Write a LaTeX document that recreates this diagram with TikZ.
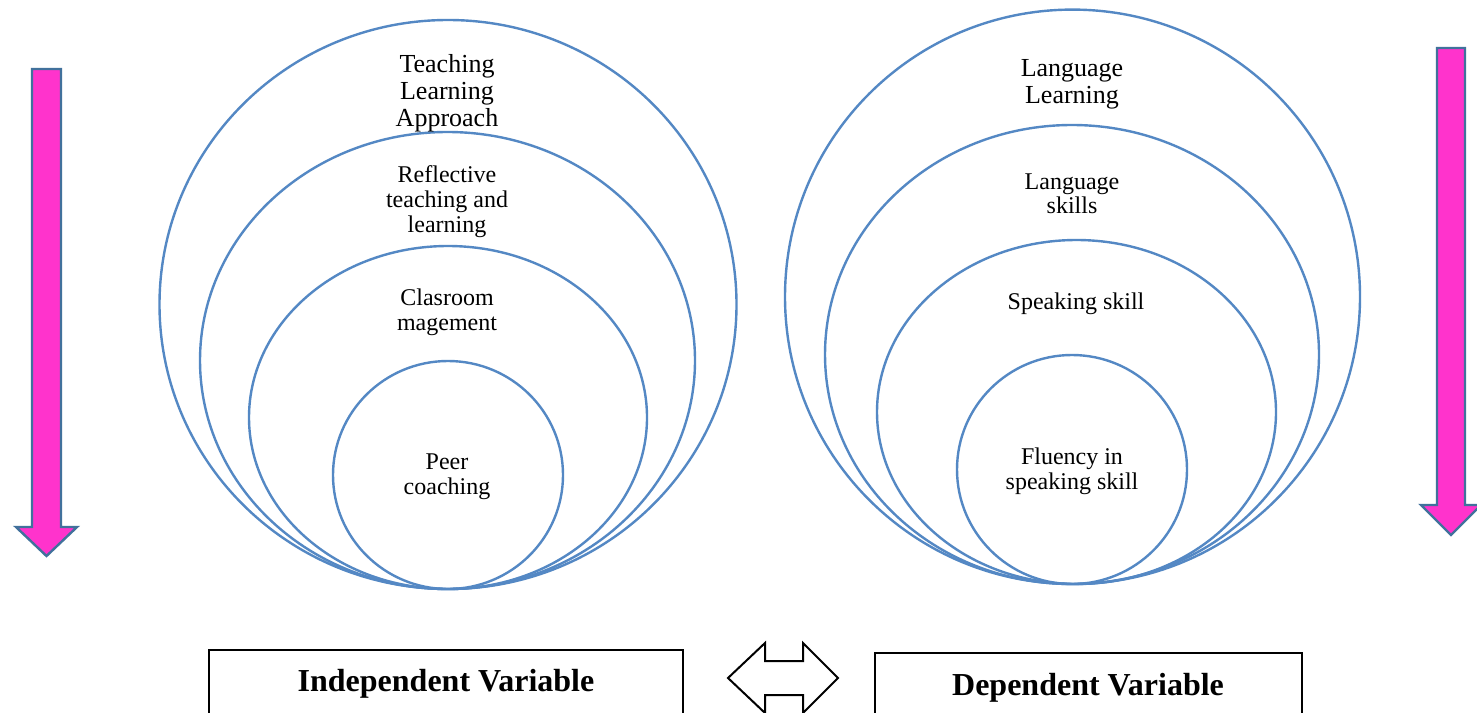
\documentclass[tikz,border=0pt]{standalone}
\usepackage{fontspec}
\setmainfont{Liberation Serif}
\usetikzlibrary{calc}
\definecolor{ringblue}{RGB}{84,136,196}
\definecolor{pinkfill}{RGB}{255,51,204}
\definecolor{pinkedge}{RGB}{65,113,156}
\tikzset{
  ring/.style={draw=ringblue, line width=2.4pt},
  bigtext/.style={align=center, font=\fontsize{26}{27}\selectfont, inner sep=0pt},
  smalltext/.style={align=center, font=\fontsize{24}{25}\selectfont, inner sep=0pt},
  vartext/.style={font=\fontsize{32}{36}\selectfont\bfseries, inner sep=0pt},
  varbox/.style={draw=black, line width=2.4pt, inner sep=0pt},
  pinkarrow/.style={fill=pinkfill, draw=pinkedge, line width=2.4pt, line join=miter},
  dblarrow/.style={fill=white, draw=black, line width=2pt, line join=miter}
}
\begin{document}
\begin{tikzpicture}[x=1pt,y=-1pt]
\useasboundingbox (0,0) rectangle (1477,712);
\fill[white] (0,0) rectangle (1477,712);

% left concentric ellipses
\draw[ring] (448,304.5) ellipse [x radius=288.5, y radius=284.5];
\draw[ring] (447.5,360.5) ellipse [x radius=247.5, y radius=228.5];
\draw[ring] (448,417.5) ellipse [x radius=199, y radius=171.5];
\draw[ring] (448,475) ellipse [x radius=115, y radius=114];

\node[bigtext] (tla) at (447,93.5) {Teaching\\Learning\\Approach};
\node[smalltext] (rtl) at (447,201.5) {Reflective\\teaching and\\learning};
\node[smalltext] (cm) at (447,312) {Clasroom\\magement};
\node[smalltext] (pc) at (447,477) {Peer\\coaching};

% right concentric ellipses
\draw[ring] (1072.5,296.8) ellipse [x radius=287.5, y radius=287.2];
\draw[ring] (1072,354.5) ellipse [x radius=247, y radius=229.5];
\draw[ring] (1076.5,412) ellipse [x radius=199.5, y radius=172];
\draw[ring] (1072,469.5) ellipse [x radius=115, y radius=114.5];

\node[bigtext] (ll) at (1072,84) {Language\\Learning};
\node[smalltext, font=\fontsize{24}{23.5}\selectfont] (ls) at (1072,194) {Language\\skills};
\node[smalltext] (ss) at (1076,304) {Speaking skill};
\node[smalltext] (fs) at (1072,471) {Fluency in\\speaking skill};

% pink down arrows
\draw[pinkarrow] (32,69) -- (61,69) -- (61,527) -- (77,527) -- (46.5,556) -- (16,527) -- (32,527) -- cycle;
\draw[pinkarrow] (1437,48) -- (1465,48) -- (1465,505) -- (1481,505) -- (1451,535) -- (1421,505) -- (1437,505) -- cycle;

% variable boxes
\node[varbox, minimum width=474pt, minimum height=100pt] (ivbox) at (446,700) {};
\node[vartext] (iv) at (446,683.5) {Independent Variable};
\node[varbox, minimum width=427pt, minimum height=100pt] (dvbox) at (1088.5,703) {};
\node[vartext] (dv) at (1088,687.5) {Dependent Variable};

% double arrow between boxes
\coordinate (dc) at (783,678);
\draw[dblarrow] ($(dc)+(-55,0)$) -- ($(dc)+(-18,-35)$) -- ($(dc)+(-18,-17)$) -- ($(dc)+(20,-17)$) -- ($(dc)+(20,-35)$) -- ($(dc)+(55,0)$) -- ($(dc)+(20,35)$) -- ($(dc)+(20,17)$) -- ($(dc)+(-18,17)$) -- ($(dc)+(-18,35)$) -- cycle;
\end{tikzpicture}
\end{document}
